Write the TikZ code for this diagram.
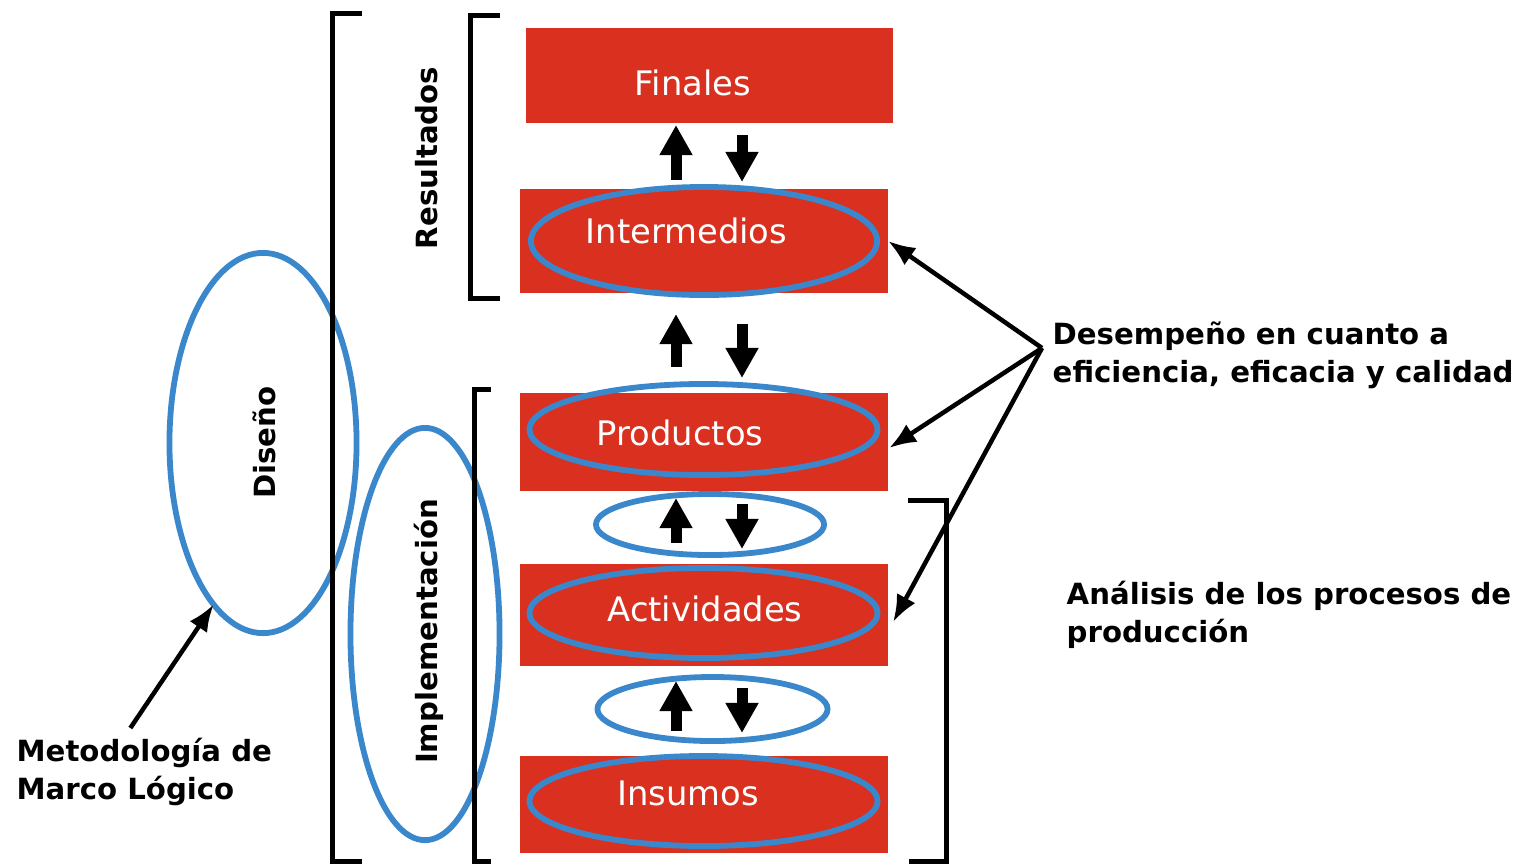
\documentclass[tikz,border=0pt]{standalone}
\usepackage{fontspec}
\setmainfont{DejaVu Sans}
\usetikzlibrary{arrows.meta,calc,shapes.geometric}
\definecolor{boxred}{HTML}{D9301F}
\definecolor{ellblue}{HTML}{3A87CC}
\begin{document}
\begin{tikzpicture}[x=0.01cm,y=-0.01cm,
  redbox/.style={fill=boxred,draw=none,inner sep=0pt,outer sep=0pt},
  ring/.style={shape=ellipse,draw=ellblue,line width=0.058cm,inner sep=0pt,outer sep=0pt},
  whitetxt/.style={text=white,font=\fontsize{9.6}{11}\selectfont,inner sep=0pt,anchor=base},
  blacktxt/.style={text=black,font=\fontsize{8.3}{10.9}\selectfont\bfseries,inner sep=0pt,align=left,anchor=north west},
  sidetxt/.style={text=black,font=\fontsize{8.3}{10}\selectfont\bfseries,inner sep=0pt,rotate=90,anchor=base},
  bracket/.style={draw=black,line width=0.05cm},
  blk/.style={draw=black,line width=0.11cm,-{Triangle[length=0.3cm,width=0.31cm]}},
  pointer/.style={draw=black,line width=0.045cm,-{Latex[length=0.27cm,width=0.21cm]}}]

\useasboundingbox (0,0) rectangle (1519,866);

% red boxes
\node[redbox,minimum width=3.67cm,minimum height=0.95cm] (fin) at (709.5,75.5) {};
\node[redbox,minimum width=3.68cm,minimum height=1.04cm] (intR) at (704,241) {};
\node[redbox,minimum width=3.68cm,minimum height=0.98cm] (prodR) at (704,442) {};
\node[redbox,minimum width=3.68cm,minimum height=1.02cm] (actR) at (704,615) {};
\node[redbox,minimum width=3.68cm,minimum height=0.97cm] (insR) at (704,804.5) {};

% blue ellipses
\node[ring,minimum width=3.46cm,minimum height=1.08cm] (intE) at (704,241) {};
\node[ring,minimum width=3.48cm,minimum height=0.91cm] (prodE) at (703.5,429.5) {};
\node[ring,minimum width=2.28cm,minimum height=0.61cm] (linkA) at (710,524.5) {};
\node[ring,minimum width=3.48cm,minimum height=0.90cm] (actE) at (703.5,613) {};
\node[ring,minimum width=2.30cm,minimum height=0.64cm] (linkB) at (712.5,709) {};
\node[ring,minimum width=3.48cm,minimum height=0.90cm] (insE) at (703.5,801) {};
\node[ring,minimum width=1.87cm,minimum height=3.80cm] (disE) at (263,443) {};
\node[ring,minimum width=1.49cm,minimum height=4.12cm] (impE) at (425,634) {};

% box texts
\node[whitetxt] (finT) at (693,95) {Finales};
\node[whitetxt] (intT) at (686.5,243) {Intermedios};
\node[whitetxt] (prodT) at (680,445) {Productos};
\node[whitetxt] (actT) at (705,621) {Actividades};
\node[whitetxt] (insT) at (688,805) {Insumos};

% side labels
\node[sidetxt] (resT) at (437,158) {Resultados};
\node[sidetxt] (disT) at (275,442.5) {Diseño};
\node[sidetxt] (impT) at (437,631.5) {Implementación};

\node[blacktxt] (desT) at (1052,321) {Desempeño en cuanto a\\eficiencia, eficacia y calidad};
\node[blacktxt] (anaT) at (1066,580) {Análisis de los procesos de\\producción};
\node[blacktxt] (metT) at (16,737) {Metodología de\\Marco Lógico};

% brackets
\draw[bracket] (362,13) -- (332,13) -- (332,861) -- (362,861);
\draw[bracket] (500,15) -- (470,15) -- (470,298) -- (500,298);
\draw[bracket] (491,389) -- (474,389) -- (474,861) -- (491,861);
\draw[bracket] (908,500) -- (946,500) -- (946,861) -- (909,861);

% vertical block arrows
\coordinate (upx) at (676,0);
\coordinate (dnx) at (742,0);
\draw[blk,shorten <=0.09cm,shorten >=0.02cm] (intR.north -| upx) -- (fin.south -| upx);
\draw[blk,shorten <=0.12cm,shorten >=0.07cm] (fin.south -| dnx) -- (intR.north -| dnx);
\draw[blk,shorten <=0.26cm,shorten >=0.21cm] (prodR.north -| upx) -- (intR.south -| upx);
\draw[blk,shorten <=0.31cm,shorten >=0.15cm] (intR.south -| dnx) -- (prodR.north -| dnx);
\draw[blk,shorten <=0.21cm,shorten >=0.07cm] (actR.north -| upx) -- (prodR.south -| upx);
\draw[blk,shorten <=0.13cm,shorten >=0.15cm] (prodR.south -| dnx) -- (actR.north -| dnx);
\draw[blk,shorten <=0.25cm,shorten >=0.15cm] (insR.north -| upx) -- (actR.south -| upx);
\draw[blk,shorten <=0.22cm,shorten >=0.23cm] (actR.south -| dnx) -- (insR.north -| dnx);

% pointers
\coordinate (conv) at (1042,348);
\draw[pointer] (conv) -- (intR.east);
\draw[pointer] (conv) -- ([shift={(1,6)}]prodR.east);
\draw[pointer] (conv) -- ([shift={(5,7)}]actR.east);
\draw[pointer] ([shift={(-14,-9)}]metT.north) -- (disE.253);
\end{tikzpicture}
\end{document}
